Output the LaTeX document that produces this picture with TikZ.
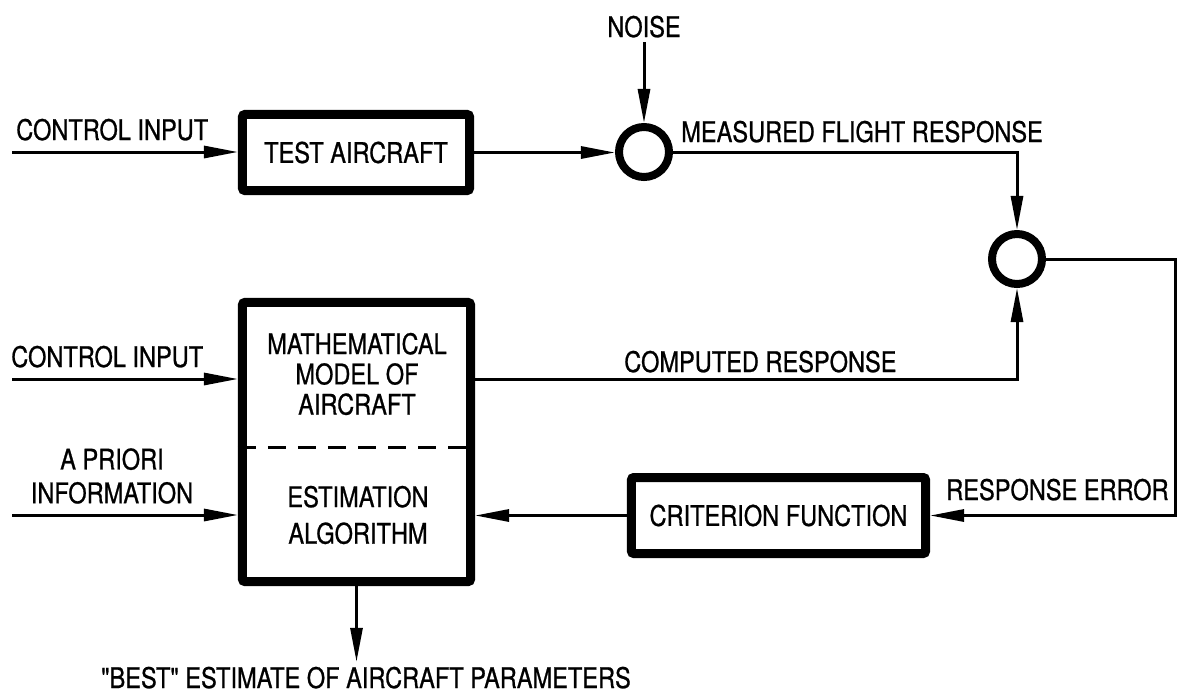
\documentclass[tikz,border=0pt]{standalone}
\usepackage{fontspec}
\setmainfont{TeX Gyre Heros}[FakeStretch=0.83, FakeBold=0.8, Ligatures=TeXOff]
\usetikzlibrary{arrows.meta}
\tikzset{
    blk/.style={draw, line width=0.225cm, rounded corners=0.06cm, inner sep=0pt},
    sum/.style={draw, circle, line width=0.2cm, minimum size=1.25cm, inner sep=0pt},
    wire/.style={line width=0.075cm},
    arr/.style={wire, -{Triangle[length=0.85cm, width=0.3cm]}},
    lbl/.style={inner sep=0pt},
}
\begin{document}
\begin{tikzpicture}[x=0.025cm, y=-0.025cm, font=\fontsize{20.2}{23}\selectfont]
    \useasboundingbox (0,0) rectangle (1177,693);

    \node[blk, minimum width=5.675cm, minimum height=1.9cm] (test) at (356,152.5) {TEST AIRCRAFT};
    \node[blk, minimum width=5.7cm, minimum height=6.975cm] (model) at (356.5,442) {};
    \node[blk, minimum width=7.35cm, minimum height=1.9cm] (crit) at (778.5,515.5) {CRITERION FUNCTION};
    \node[sum] (sum1) at (644,152) {};
    \node[sum] (sum2) at (1017,259) {};

    \node[align=center, font=\fontsize{20.2}{21.5}\selectfont] (mtext) at (357,374) {MATHEMATICAL\\MODEL OF\\AIRCRAFT};
    \node[align=center, font=\fontsize{20.2}{26}\selectfont] (etext) at (358,515) {ESTIMATION\\ALGORITHM};
    \coordinate (dash) at (0,447);
    \draw[wire, dash pattern=on 0.45cm off 0.3cm] (model.west |- dash) -- (model.east |- dash);

    \node[anchor=base] (noise) at (644,37) {NOISE};
    \node[lbl, anchor=base west] (ctl1) at (16,140) {CONTROL INPUT};
    \node[lbl, anchor=base west] (meas) at (681,142) {MEASURED FLIGHT RESPONSE};
    \node[lbl, anchor=base west] (ctl2) at (11,367) {CONTROL INPUT};
    \node[lbl, align=center, font=\fontsize{20.2}{24}\selectfont] (prior) at (112,476) {A PRIORI\\INFORMATION};
    \node[lbl, anchor=base west] (comp) at (624,372) {COMPUTED RESPONSE};
    \node[lbl, anchor=base west] (rerr) at (946,500) {RESPONSE ERROR};
    \node[anchor=base] (best) at (366,688) {"BEST" ESTIMATE OF AIRCRAFT PARAMETERS};

    \coordinate (in1) at (12,152);
    \coordinate (in2) at (12,379);
    \coordinate (in3) at (12,515);
    \coordinate (corner) at (1175,259);

    \draw[arr] (in1) -- (in1 -| test.west);
    \draw[arr] (test.east) -- (test.east -| sum1.west);
    \draw[arr] (noise) -- (sum1);
    \draw[arr] (sum1.east) -| (sum2.north);
    \draw[arr] (sum2.east) -- (corner) |- (crit.east);
    \draw[arr] (crit.west) -- (crit.west -| model.east);
    \draw[arr] (in2) -- (in2 -| model.west);
    \draw[arr] (in2 -| model.east) -| (sum2.south);
    \draw[arr] (in3) -- (in3 -| model.west);
    \draw[arr] (model.south) -- (model.south |- best.north);
\end{tikzpicture}
\end{document}
